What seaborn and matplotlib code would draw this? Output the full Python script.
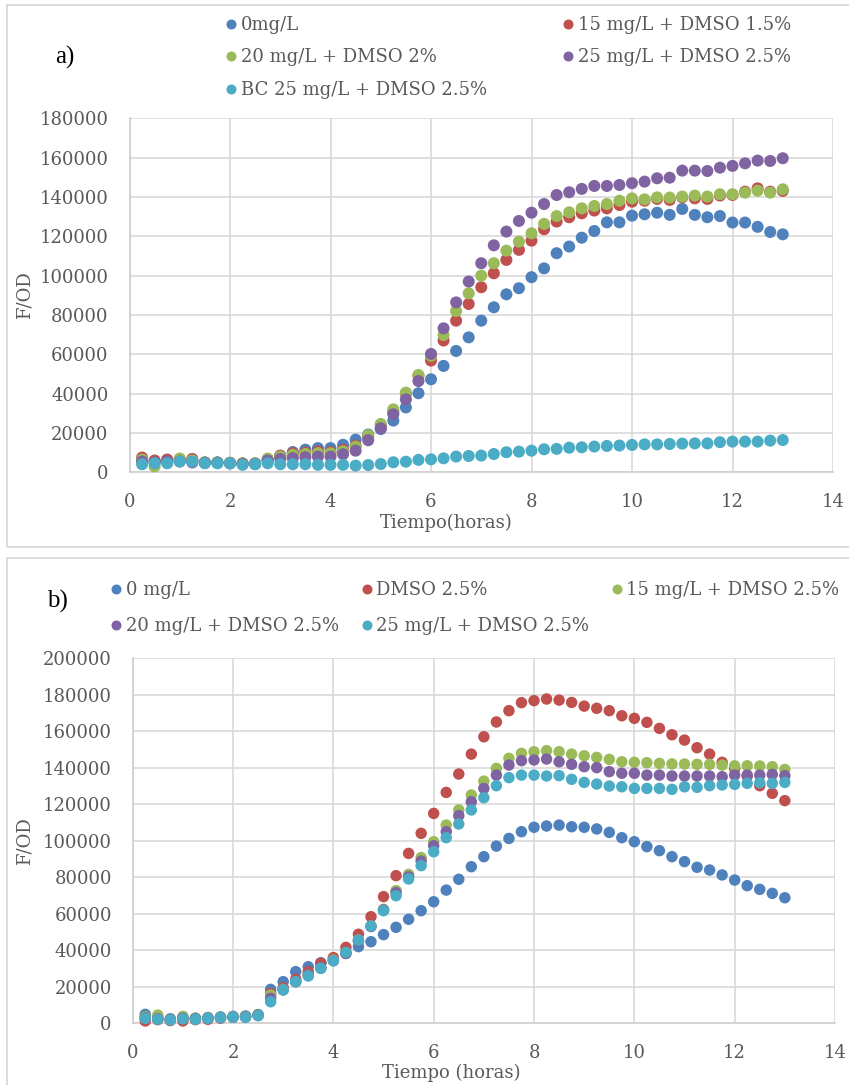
import matplotlib
matplotlib.use("Agg")
import matplotlib.pyplot as plt
from matplotlib.lines import Line2D
from matplotlib.patches import Rectangle
import pandas as pd
import seaborn as sns

# ---------------- data ----------------
hours = [0.25, 0.5, 0.75, 1.0, 1.25, 1.5, 1.75, 2.0, 2.25, 2.5, 2.75, 3.0,
         3.25, 3.5, 3.75, 4.0, 4.25, 4.5, 4.75, 5.0, 5.25, 5.5, 5.75, 6.0,
         6.25, 6.5, 6.75, 7.0, 7.25, 7.5, 7.75, 8.0, 8.25, 8.5, 8.75, 9.0,
         9.25, 9.5, 9.75, 10.0, 10.25, 10.5, 10.75, 11.0, 11.25, 11.5, 11.75,
         12.0, 12.25, 12.5, 12.75, 13.0]

# panel a
a_labels = ["0mg/L", "15 mg/L + DMSO 1.5%", "20 mg/L + DMSO 2%",
            "25 mg/L + DMSO 2.5%", "BC 25 mg/L + DMSO 2.5%"]
a_0mg = [6500, 5500, 6000, 6500, 6200, 5000, 5000, 4800, 4500, 4500, 6000, 8500,
         10300, 11500, 12300, 12300, 14000, 16600, 19200,
         22000, 26300, 33000, 40200, 47300, 54100, 61700, 68600, 77100, 83900,
         90500, 93600, 99200, 103700, 111400, 114800, 119300, 122700, 127100, 127100,
         130500, 131200, 132000, 130900, 133900, 130900, 129700, 130300, 127000,
         127000, 124800, 122200, 121000]
a_15mg = [7500, 6000, 6500, 6500, 6800, 5000, 5000, 4800, 4500, 4500, 6500, 8400,
          9700, 10000, 10600, 10300, 11500, 13600, 18100,
          24000, 30800, 40000, 49000, 56800, 67000, 77100, 85600, 94100, 101200,
          108000, 113100, 117800, 123600, 127500, 129700, 131700, 133100, 134200, 135900,
          137600, 138100, 139000, 138500, 139800, 139300, 139000, 140700, 141000,
          142700, 144400, 142700, 143100]
a_20mg = [6500, 3000, 5000, 7000, 6000, 5000, 5000, 4800, 4500, 4500, 7000, 8000,
          8900, 9300, 9700, 9700, 10600, 13000, 18800,
          24600, 32000, 40500, 49500, 59200, 69800, 82000, 91000, 100000, 106300,
          112700, 117300, 121500, 126300, 130300, 132200, 134200, 135400, 136400, 138100,
          139300, 138800, 139800, 139700, 140200, 140700, 140200, 141400, 141400,
          142200, 143200, 142200, 143900]
a_25mg = [5500, 5000, 5500, 5500, 5000, 4800, 4800, 4500, 4200, 4200, 6000, 6800,
          7200, 7700, 8000, 8000, 9200, 11000, 16300,
          22400, 29500, 37100, 46400, 60200, 73200, 86400, 97000, 106300, 115400,
          122400, 127800, 132000, 136400, 141000, 142400, 144100, 145600, 145600, 146100,
          147000, 147800, 149500, 149800, 153400, 153400, 153200, 154900, 155800,
          157100, 158500, 158300, 159700]
a_bc25 = [4100, 4600, 4600, 5500, 5500, 4600, 4600, 4600, 3800, 4100, 4600, 4100,
          4100, 4100, 3800, 3800, 3800, 3400, 3700,
          4200, 5100, 5400, 6300, 6600, 7100, 8000, 8300, 8500, 9300,
          10200, 10500, 11000, 11700, 11900, 12500, 12700, 13100, 13400, 13600,
          13900, 14200, 14200, 14400, 14600, 14700, 14700, 15300, 15600,
          15600, 15600, 16100, 16400]

# panel b
b_labels = ["0 mg/L", "DMSO 2.5%", "15 mg/L + DMSO 2.5%",
            "20 mg/L + DMSO 2.5%", "25 mg/L + DMSO 2.5%"]
b_0mg = [4900, 3000, 2500, 3000, 2800, 3200, 3500, 3800, 4000, 4800,
         18600, 22800, 28300, 31000, 33200, 35100, 38300, 42000, 44700, 48600,
         52600, 57000, 61700, 66600, 73000, 78900, 85800, 91300, 97100,
         101300, 105000, 107400, 108100, 108600, 107700, 107400, 106500, 104600,
         101700, 99500, 96800, 94600, 91300, 88600, 85500, 84000, 81300, 78500,
         75400, 73400, 71200, 68800]
b_dmso = [1300, 2000, 1500, 1300, 2000, 2200, 2800, 3300, 3500, 4500,
          16400, 19500, 24100, 28300, 32900, 36000, 41600, 48800, 58400, 69400,
          80900, 93100, 104100, 115000, 126500, 136600, 147500, 157000, 165100,
          171300, 175700, 176800, 177700, 177100, 175800, 173800, 172600, 171300,
          168500, 167100, 164900, 161600, 158100, 155200, 151000, 147500, 143000,
          139500, 135500, 130200, 126000, 122000]
b_15mg = [3500, 4500, 2200, 3800, 2800, 3000, 3300, 3500, 3700, 4500,
          15500, 18600, 22800, 26500, 30100, 34700, 38700, 45600, 53300, 62400,
          72700, 81600, 90800, 99500, 108600, 116900, 125100, 132700, 139700,
          145200, 147900, 148800, 149400, 148800, 147500, 146600, 145700, 144600,
          143300, 143000, 142800, 142400, 142100, 142100, 141900, 141900, 141500,
          141100, 141100, 141000, 140600, 139100]
b_20mg = [3000, 2500, 2000, 2800, 2500, 2800, 3200, 3400, 3500, 4300,
          13700, 18300, 22800, 26500, 30500, 34300, 38300, 45100, 53000, 62100,
          71600, 80300, 88900, 97300, 105000, 113800, 121400, 128700, 136000,
          141500, 143900, 144300, 144800, 143300, 141900, 140600, 140100, 137900,
          137000, 137000, 136000, 136000, 135500, 135500, 135500, 135500, 135100,
          136000, 136000, 136000, 136400, 135700]
b_25mg = [2700, 2200, 1800, 2400, 2200, 2700, 3100, 3300, 3300, 4200,
          11800, 18300, 22800, 25900, 30100, 34300, 38900, 45600, 53300, 61700,
          69900, 79100, 86400, 94000, 101700, 109200, 116900, 123600, 130200,
          134600, 136000, 136000, 135500, 135700, 133700, 132000, 131100, 130000,
          129600, 128700, 128700, 128700, 128200, 129600, 129300, 130200, 130600,
          130900, 131500, 131800, 131500, 132000]

series_colors = ["#4F81BD", "#C0504D", "#9BBB59", "#8064A2", "#4BACC6"]

x_ticks = [0, 2, 4, 6, 8, 10, 12, 14]
a_y_ticks = [0, 20000, 40000, 60000, 80000, 100000, 120000, 140000, 160000, 180000]
b_y_ticks = [0, 20000, 40000, 60000, 80000, 100000, 120000, 140000, 160000, 180000, 200000]


def long_frame(labels, columns):
    parts = [pd.DataFrame({"Tiempo": hours, "F/OD": vals, "serie": lab})
             for lab, vals in zip(labels, columns)]
    return pd.concat(parts, ignore_index=True)


df_a = long_frame(a_labels, [a_0mg, a_15mg, a_20mg, a_25mg, a_bc25])
df_b = long_frame(b_labels, [b_0mg, b_dmso, b_15mg, b_20mg, b_25mg])

# ---------------- style ----------------
sns.set_style("white")
plt.rcParams["font.family"] = ["DejaVu Serif"]
TXT = "#595959"
GRID = "#D9D9D9"
FS = 13

W, H = 849, 1085
fig = plt.figure(figsize=(W / 100, H / 100), dpi=100)


def fx(px):
    return px / W


def fy(py):
    return 1 - py / H


# panel frames
for top, bottom in [(5, 547), (558, 1095)]:
    fig.add_artist(Rectangle((fx(7), fy(bottom)), fx(860) - fx(7), fy(top) - fy(bottom),
                             transform=fig.transFigure, facecolor="none",
                             edgecolor=GRID, linewidth=1.3, zorder=0))


def make_panel(rect, df, labels, y_ticks, ymax, size, xlabel, xlab_xy, ylab_xy):
    ax = fig.add_axes(rect)
    pal = dict(zip(labels, series_colors))
    sns.scatterplot(data=df, x="Tiempo", y="F/OD", hue="serie", hue_order=labels,
                    palette=pal, s=size, linewidth=0, alpha=1, ax=ax, legend=False,
                    zorder=3, clip_on=False)
    ax.set_xlim(0, 14)
    ax.set_ylim(0, ymax)
    ax.set_xticks(x_ticks)
    ax.set_yticks(y_ticks)
    ax.set_xticklabels([str(t) for t in x_ticks])
    ax.set_yticklabels([str(t) for t in y_ticks])
    ax.grid(True, color=GRID, linewidth=1.2)
    ax.set_axisbelow(True)
    for side in ["top", "right"]:
        ax.spines[side].set_visible(False)
    for side in ["left", "bottom"]:
        ax.spines[side].set_color("#CFCFCF")
        ax.spines[side].set_linewidth(1.2)
    ax.tick_params(axis="both", length=0, labelsize=FS, labelcolor=TXT, pad=15)
    ax.set_xlabel(xlabel, fontsize=FS, color=TXT)
    ax.set_ylabel("F/OD", fontsize=FS, color=TXT)
    ax.xaxis.set_label_coords(*xlab_xy)
    ax.xaxis.label.set_va("center")
    ax.yaxis.set_label_coords(*ylab_xy)
    ax.yaxis.label.set_va("center")
    return ax


ax_a = make_panel([fx(129.5), fy(472.3), fx(833) - fx(129.5), fy(118.3) - fy(472.3)],
                  df_a, a_labels, a_y_ticks, 180000, 75, "Tiempo(horas)",
                  (0.450, -0.143), (-0.1485, 0.50))
ax_b = make_panel([fx(132.7), fy(1023.3), fx(835) - fx(132.7), fy(658.3) - fy(1023.3)],
                  df_b, b_labels, b_y_ticks, 200000, 68, "Tiempo (horas)",
                  (0.453, -0.136), (-0.1534, 0.50))


def handle(color):
    return Line2D([], [], linestyle="none", marker="o", markersize=7.2,
                  markerfacecolor=color, markeredgewidth=0)


# legend a: two columns, filled row by row
order_a = [0, 2, 4, 1, 3]
fig.legend([handle(series_colors[i]) for i in order_a], [a_labels[i] for i in order_a],
           ncol=2, loc="upper left", bbox_to_anchor=(fx(226), fy(16)),
           frameon=False, fontsize=FS, labelcolor=TXT, borderpad=0, borderaxespad=0,
           handlelength=0.6, handletextpad=0.25, columnspacing=4.15, labelspacing=0.8)

# legend b: three columns, filled row by row
order_b = [0, 3, 1, 4, 2]
fig.legend([handle(series_colors[i]) for i in order_b], [b_labels[i] for i in order_b],
           ncol=3, loc="upper left", bbox_to_anchor=(fx(111), fy(581)),
           frameon=False, fontsize=FS, labelcolor=TXT, borderpad=0, borderaxespad=0,
           handlelength=0.6, handletextpad=0.25, columnspacing=1.2, labelspacing=1.0)

# panel letters
fig.text(fx(55), fy(57), "a)", fontsize=18, family=["Liberation Serif"],
         color="black", ha="left", va="center")
fig.text(fx(47), fy(601), "b)", fontsize=18, family=["Liberation Serif"],
         color="black", ha="left", va="center")

fig.savefig("out.png", dpi=100, facecolor="white")
